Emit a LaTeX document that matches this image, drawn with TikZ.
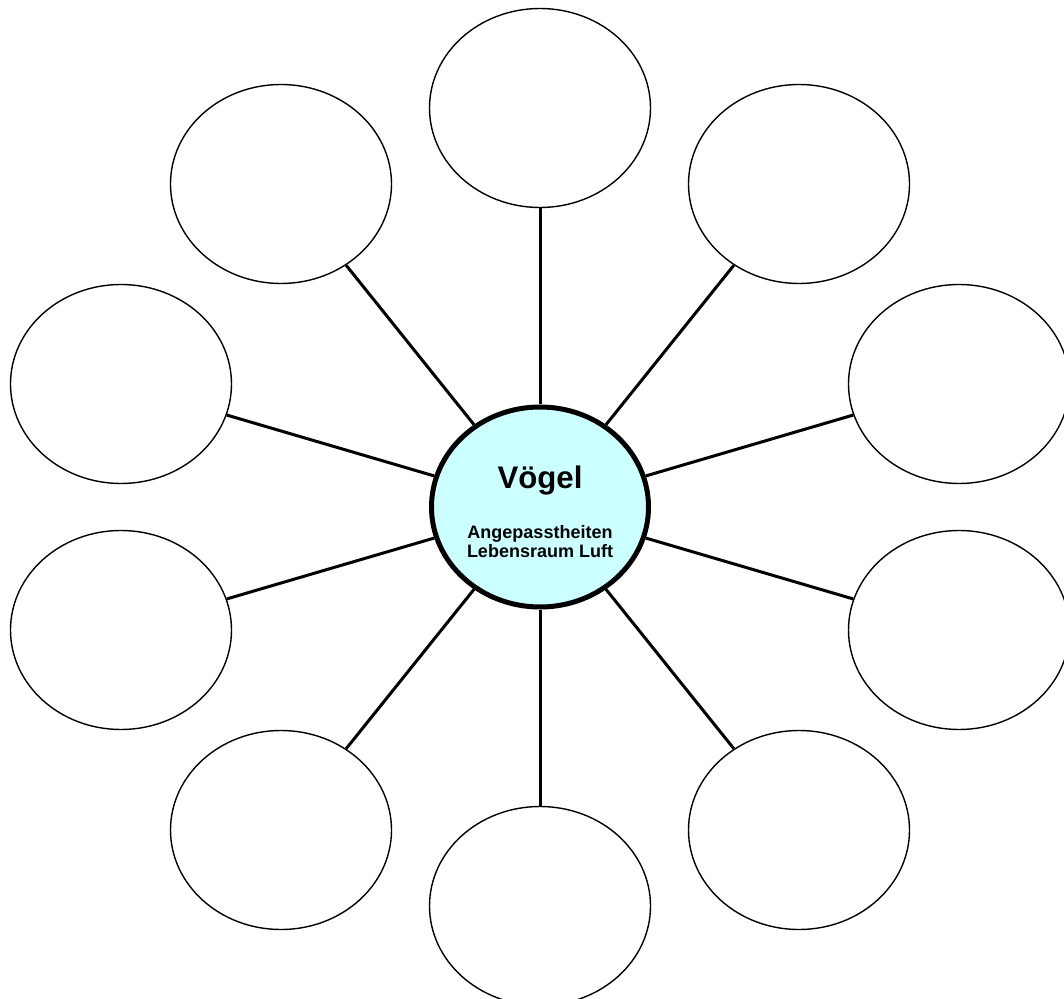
\documentclass[tikz,border=0pt]{standalone}
\usepackage{fontspec}
\setmainfont{Liberation Sans}
\usepackage{tikz}
\usetikzlibrary{positioning}
\usetikzlibrary{shapes.geometric}
\definecolor{hubcyan}{RGB}{204,255,255}

\begin{document}
\begin{tikzpicture}[x=0.5pt,y=-0.5pt]
	\useasboundingbox (0,0) rectangle (1064,999);

	\node (M) at (540,507) [ellipse,draw=black,line width=2.5pt,fill=hubcyan,
	        minimum width=108.5pt,minimum height=100pt,inner sep=0pt,
	        align=center,font=\bfseries\fontsize{9}{9.5}\selectfont]
	        {\rule{0pt}{16.3pt}{\fontsize{15.6}{18}\selectfont Vögel}\\[14.3pt]Angepasstheiten\\Lebensraum Luft};

	\begin{scope}[every node/.style={ellipse,draw=black,line width=0.7pt,fill=white,
	              minimum width=110.5pt,minimum height=99.5pt,inner sep=0pt}]
	    \node (A) at (540,108) {};
	    \node (B) at (799,184) {};
	    \node (C) at (959,384) {};
	    \node (D) at (959,630) {};
	    \node (E) at (799,830) {};
	    \node (F) at (540,906) {};
	    \node (G) at (281,830) {};
	    \node (H) at (121,630) {};
	    \node (I) at (121,384) {};
	    \node (J) at (281,184) {};
	\end{scope}

	\begin{scope}[every edge/.style={draw=black,line width=1.5pt}]
    	\path (M) edge (A);
    	\path (M) edge (B);
    	\path (M) edge (C);
    	\path (M) edge (D);
    	\path (M) edge (E);
    	\path (M) edge (F);
    	\path (M) edge (G);
    	\path (M) edge (H);
    	\path (M) edge (I);
    	\path (M) edge (J);
	\end{scope}
\end{tikzpicture}
\end{document}
